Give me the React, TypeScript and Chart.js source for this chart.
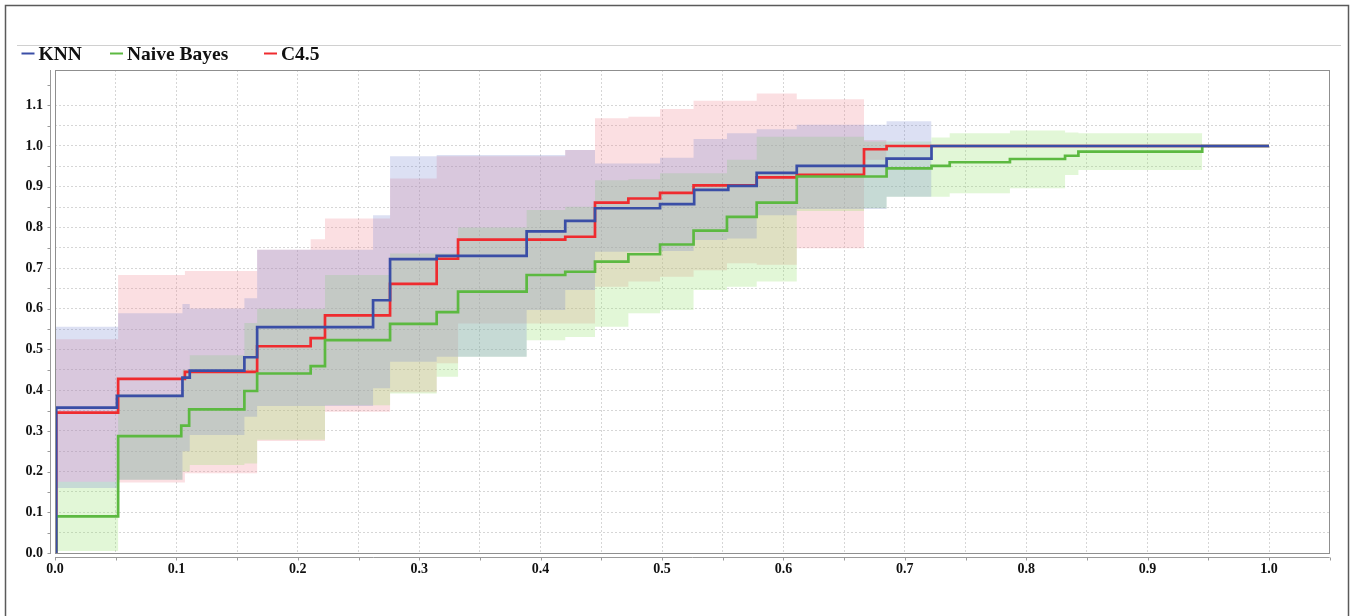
import React, { useEffect, useRef } from "react";
import { Chart, registerables } from "chart.js";

Chart.register(...registerables);

// ---- series names & colours ----
const seriesNames = ["KNN", "Naive Bayes", "C4.5"];
const lineColors = ["#3a4ea6", "#5cb941", "#ef2b2f"];
const bandColors = [
  "rgba(120,135,210,0.26)",
  "rgba(150,225,110,0.28)",
  "rgba(240,140,150,0.28)",
];

// ---- mean curves (x = FPR where the step starts, y = TPR) ----
const knnX = [0, 0.001, 0.051, 0.105, 0.111, 0.156, 0.1665, 0.262, 0.276, 0.3144, 0.3885, 0.4203, 0.4448, 0.4984, 0.5265, 0.5546, 0.578, 0.611, 0.685, 0.722, 1.0];
const knnY = [0, 0.357, 0.386, 0.431, 0.448, 0.481, 0.555, 0.621, 0.722, 0.73, 0.79, 0.816, 0.847, 0.857, 0.892, 0.902, 0.934, 0.951, 0.969, 1.0, 1.0];

const nbX = [0, 0.001, 0.052, 0.104, 0.1105, 0.156, 0.1665, 0.2106, 0.2224, 0.276, 0.3144, 0.332, 0.3885, 0.4203, 0.4448, 0.4723, 0.4984, 0.526, 0.5535, 0.578, 0.611, 0.685, 0.722, 0.737, 0.7866, 0.832, 0.843, 0.945, 1.0];
const nbY = [0, 0.09, 0.287, 0.313, 0.353, 0.398, 0.441, 0.459, 0.523, 0.563, 0.592, 0.642, 0.683, 0.691, 0.716, 0.734, 0.758, 0.792, 0.826, 0.861, 0.925, 0.945, 0.951, 0.96, 0.968, 0.976, 0.986, 1.0, 1.0];

const c45X = [0, 0.001, 0.052, 0.107, 0.1665, 0.2106, 0.2224, 0.276, 0.3144, 0.332, 0.4203, 0.4448, 0.4723, 0.4984, 0.526, 0.578, 0.611, 0.6664, 0.685, 1.0];
const c45Y = [0, 0.345, 0.428, 0.445, 0.508, 0.528, 0.584, 0.661, 0.723, 0.77, 0.777, 0.861, 0.871, 0.885, 0.903, 0.923, 0.929, 0.992, 1.0, 1.0];

// ---- deviation bands ----
const knnBandX = [0, 0.052, 0.105, 0.111, 0.156, 0.1665, 0.262, 0.276, 0.3144, 0.3885, 0.4203, 0.4448, 0.4984, 0.526, 0.5535, 0.578, 0.611, 0.685, 0.722];
const knnUpper = [0.556, 0.589, 0.612, 0.601, 0.626, 0.745, 0.83, 0.975, 0.978, 0.978, 0.99, 0.957, 0.971, 1.017, 1.031, 1.041, 1.052, 1.061, 1.0];
const knnLower = [0.16, 0.18, 0.25, 0.29, 0.335, 0.361, 0.405, 0.47, 0.482, 0.597, 0.646, 0.74, 0.742, 0.769, 0.773, 0.83, 0.845, 0.875, 1.0];

const nbBandX = [0, 0.052, 0.105, 0.111, 0.156, 0.1665, 0.2224, 0.276, 0.3144, 0.332, 0.3885, 0.4203, 0.4448, 0.4723, 0.4984, 0.526, 0.5535, 0.578, 0.611, 0.6664, 0.685, 0.722, 0.737, 0.7866, 0.832, 0.843, 0.945];
const nbUpper = [0.175, 0.39, 0.45, 0.486, 0.565, 0.6, 0.683, 0.736, 0.736, 0.8, 0.843, 0.851, 0.916, 0.918, 0.933, 0.933, 0.966, 1.023, 1.023, 1.011, 1.011, 1.021, 1.031, 1.038, 1.033, 1.031, 1.0];
const nbLower = [0.005, 0.18, 0.2, 0.216, 0.22, 0.278, 0.363, 0.392, 0.433, 0.482, 0.523, 0.531, 0.556, 0.589, 0.597, 0.646, 0.654, 0.667, 0.84, 0.847, 0.875, 0.875, 0.884, 0.896, 0.929, 0.941, 1.0];

const c45BandX = [0, 0.052, 0.107, 0.1665, 0.2106, 0.2224, 0.276, 0.3144, 0.332, 0.4203, 0.4448, 0.4723, 0.4984, 0.526, 0.5535, 0.578, 0.611, 0.6664, 0.685];
const c45Upper = [0.525, 0.683, 0.693, 0.745, 0.771, 0.822, 0.92, 0.975, 0.975, 0.99, 1.068, 1.072, 1.091, 1.111, 1.111, 1.129, 1.115, 1.015, 1.0];
const c45Lower = [0.175, 0.173, 0.196, 0.275, 0.275, 0.347, 0.395, 0.466, 0.564, 0.564, 0.654, 0.667, 0.679, 0.695, 0.712, 0.708, 0.749, 0.966, 1.0];

// ---- axes ----
const xMin = 0;
const xMax = 1.05;
const yMin = 0;
const yMax = 1.1867;
const tickStep = 0.05;

const FONT = "'Liberation Serif', 'Times New Roman', serif";

const pts = (xs: number[], ys: number[]) => xs.map((x, i) => ({ x, y: ys[i] }));
const isMultiple = (v: number, step: number) =>
  Math.abs(v / step - Math.round(v / step)) < 1e-6;

const lineDs = (i: number, xs: number[], ys: number[]) => ({
  label: seriesNames[i],
  data: pts(xs, ys),
  borderColor: lineColors[i],
  backgroundColor: lineColors[i],
  borderWidth: 2.7,
  stepped: true,
  pointRadius: 0,
  fill: false,
});

const bandDs = (i: number, xs: number[], ys: number[], upper: boolean) => ({
  label: seriesNames[i] + (upper ? " upper" : " lower"),
  data: pts(xs, ys),
  borderColor: "rgba(0,0,0,0)",
  borderWidth: 0,
  backgroundColor: bandColors[i],
  stepped: true,
  pointRadius: 0,
  fill: upper ? "+1" : false,
});

const decorPlugin = {
  id: "decor",
  beforeDraw(chart: any) {
    const ctx = chart.ctx;
    ctx.save();
    ctx.fillStyle = "#ffffff";
    ctx.fillRect(0, 0, chart.width, chart.height);
    ctx.restore();
  },
  afterDraw(chart: any) {
    const { ctx, chartArea: a, scales } = chart;
    const xs = scales.x;
    const ys = scales.y;
    ctx.save();
    // outer frame
    ctx.strokeStyle = "#5a5a5a";
    ctx.lineWidth = 1.5;
    ctx.strokeRect(5.5, 5.5, 1343, 650);
    // separator above legend
    ctx.strokeStyle = "#d0d0d0";
    ctx.lineWidth = 1;
    ctx.beginPath();
    ctx.moveTo(17, 45.5);
    ctx.lineTo(1341, 45.5);
    ctx.stroke();
    // legend
    const legendX = [21.5, 110, 264];
    const ly = 53.5;
    ctx.font = "bold 19.5px " + FONT;
    ctx.textBaseline = "middle";
    ctx.textAlign = "left";
    for (let i = 0; i < 3; i++) {
      const lx = legendX[i];
      ctx.strokeStyle = lineColors[i];
      ctx.lineWidth = 2;
      ctx.beginPath();
      ctx.moveTo(lx, ly);
      ctx.lineTo(lx + 13, ly);
      ctx.stroke();
      ctx.fillStyle = "#111";
      ctx.fillText(chart.data.datasets[i].label, lx + 17, ly + 1);
    }
    // plot border
    ctx.strokeStyle = "#8f8f8f";
    ctx.lineWidth = 1;
    ctx.strokeRect(Math.round(a.left) + 0.5, Math.round(a.top) + 0.5, Math.round(a.right - a.left) - 1, Math.round(a.bottom - a.top));
    // y axis line + ticks
    const yAxisX = Math.round(a.left) - 4.5;
    ctx.strokeStyle = "#9a9a9a";
    ctx.beginPath();
    ctx.moveTo(yAxisX, a.top);
    ctx.lineTo(yAxisX, a.bottom + 1);
    for (let v = 0; v <= yMax + 1e-9; v += tickStep) {
      const py = Math.round(ys.getPixelForValue(v)) + 0.5;
      ctx.moveTo(yAxisX - 3, py);
      ctx.lineTo(yAxisX, py);
    }
    ctx.stroke();
    // x axis line + ticks
    const xAxisY = Math.round(a.bottom) + 4.5;
    ctx.beginPath();
    ctx.moveTo(a.left, xAxisY);
    ctx.lineTo(a.right, xAxisY);
    for (let v = 0; v <= xMax + 1e-9; v += tickStep) {
      const px = Math.round(xs.getPixelForValue(v)) + 0.5;
      ctx.moveTo(px, xAxisY);
      ctx.lineTo(px, xAxisY + 3);
    }
    ctx.stroke();
    ctx.restore();
  },
};

const gridColor = (c: any) => {
  const v = c.tick ? c.tick.value : NaN;
  return isMultiple(v, tickStep) ? "#d6d6d6" : "rgba(0,0,0,0)";
};

const tickFont = { family: FONT, size: 14, weight: "bold" as const };

export default function App() {
  const ref = useRef<HTMLCanvasElement>(null);

  useEffect(() => {
    if (!ref.current) return;
    const chart = new Chart(ref.current, {
      type: "line",
      data: {
        datasets: [
          lineDs(0, knnX, knnY),
          lineDs(1, nbX, nbY),
          lineDs(2, c45X, c45Y),
          bandDs(0, knnBandX, knnUpper, true),
          bandDs(0, knnBandX, knnLower, false),
          bandDs(1, nbBandX, nbUpper, true),
          bandDs(1, nbBandX, nbLower, false),
          bandDs(2, c45BandX, c45Upper, true),
          bandDs(2, c45BandX, c45Lower, false),
        ] as any,
      },
      options: {
        responsive: false,
        animation: false,
        events: [],
        layout: { padding: { left: 0, right: 21.3, top: 70, bottom: 0 } },
        plugins: {
          legend: { display: false },
          tooltip: { enabled: false },
          filler: { drawTime: "beforeDatasetsDraw" } as any,
        },
        scales: {
          x: {
            type: "linear",
            min: xMin,
            max: xMax,
            afterFit: (s: any) => {
              s.height = 63;
            },
            ticks: {
              stepSize: tickStep,
              autoSkip: false,
              maxRotation: 0,
              padding: 8,
              color: "#111",
              font: tickFont,
              callback: (v: any) => (isMultiple(Number(v), 0.1) && v <= 1.0001 ? Number(v).toFixed(1) : ""),
            },
            grid: { color: gridColor, drawTicks: false, lineWidth: 1 },
            border: { display: false, dash: [2, 2] },
          },
          y: {
            type: "linear",
            min: yMin,
            max: yMax,
            afterFit: (s: any) => {
              s.width = 55;
            },
            ticks: {
              stepSize: tickStep,
              autoSkip: false,
              padding: 12,
              color: "#111",
              font: tickFont,
              callback: (v: any) => (Number(v) >= 0 && isMultiple(Number(v), 0.1) ? Number(v).toFixed(1) : ""),
            },
            grid: { color: gridColor, drawTicks: false, lineWidth: 1 },
            border: { display: false, dash: [2, 2] },
          },
        },
      } as any,
      plugins: [decorPlugin],
    });
    return () => chart.destroy();
  }, []);

  return (
    <div style={{ position: "fixed", left: 0, top: 0, width: 1351, height: 616, background: "#fff" }}>
      <canvas ref={ref} width={1351} height={616} style={{ display: "block", width: 1351, height: 616 }} />
    </div>
  );
}
